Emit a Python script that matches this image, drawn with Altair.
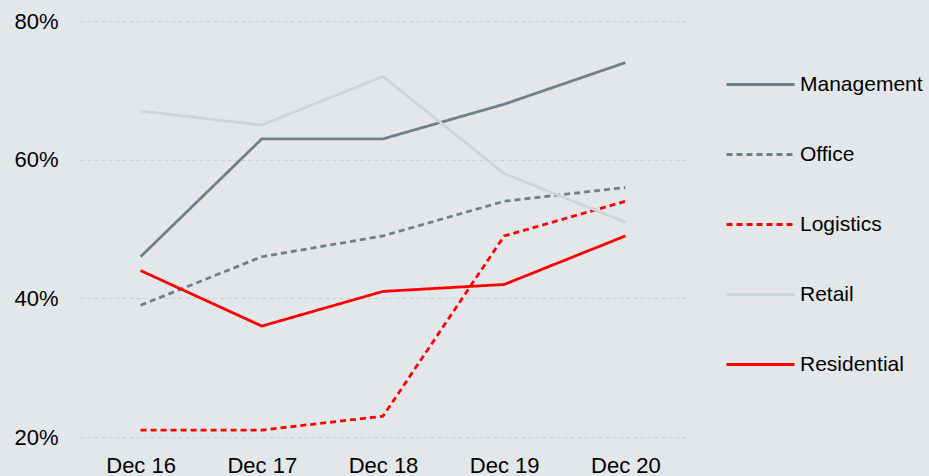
import altair as alt
import pandas as pd

periods = ["Dec 16", "Dec 17", "Dec 18", "Dec 19", "Dec 20"]
series = ["Management", "Office", "Logistics", "Retail", "Residential"]
management = [46, 63, 63, 68, 74]
office = [39, 46, 49, 54, 56]
logistics = [21, 21, 23, 49, 54]
retail = [67, 65, 72, 58, 51]
residential = [44, 36, 41, 42, 49]

colors = ["#6e8089", "#6e8089", "#ff0000", "#ccd5da", "#ff0000"]
dashes = [[1, 0], [6, 4], [6, 4], [1, 0], [1, 0]]

rows = []
for name, vals in zip(series, [management, office, logistics, retail, residential]):
    for p, v in zip(periods, vals):
        rows.append({"period": p, "series": name, "value": v})
df = pd.DataFrame(rows)

font = "Liberation Sans"

legend_kw = dict(title=None, orient="none", legendX=645, legendY=28,
                 symbolType="stroke", symbolSize=4624, symbolStrokeWidth=3,
                 rowPadding=24, labelFontSize=21, labelFont=font,
                 labelColor="#000000", labelOffset=4, labelLimit=300)

chart = (
    alt.Chart(df)
    .mark_line(strokeWidth=2.8)
    .encode(
        x=alt.X("period:N", sort=periods, scale=alt.Scale(type="point", padding=0.5),
                axis=alt.Axis(title=None, labelAngle=0, ticks=False, domain=False, grid=False,
                              labelFontSize=22, labelFont=font, labelColor="#000000", labelPadding=18)),
        y=alt.Y("value:Q", scale=alt.Scale(domain=[20, 80], nice=False, zero=False),
                axis=alt.Axis(title=None, values=[20, 40, 60, 80], labelExpr="datum.value + '%'",
                              ticks=False, domain=False, grid=True, gridColor="#c9cfd3",
                              gridDash=[4, 3], gridWidth=1,
                              labelFontSize=22, labelFont=font, labelColor="#000000", labelPadding=22)),
        color=alt.Color("series:N", sort=series,
                        scale=alt.Scale(domain=series, range=colors),
                        legend=alt.Legend(**legend_kw)),
        strokeDash=alt.StrokeDash("series:N", sort=series,
                                  scale=alt.Scale(domain=series, range=dashes),
                                  legend=alt.Legend(**legend_kw)),
        order=alt.Order("series:N"),
    )
    .properties(width=606, height=416, background="#e4e7ea",
                padding={"left": 80, "top": 21, "right": 243, "bottom": 39},
                autosize=alt.AutoSizeParams(type="none"))
    .configure_view(stroke=None)
)

chart.save("out.html", embed_options={"renderer": "svg", "actions": False})
